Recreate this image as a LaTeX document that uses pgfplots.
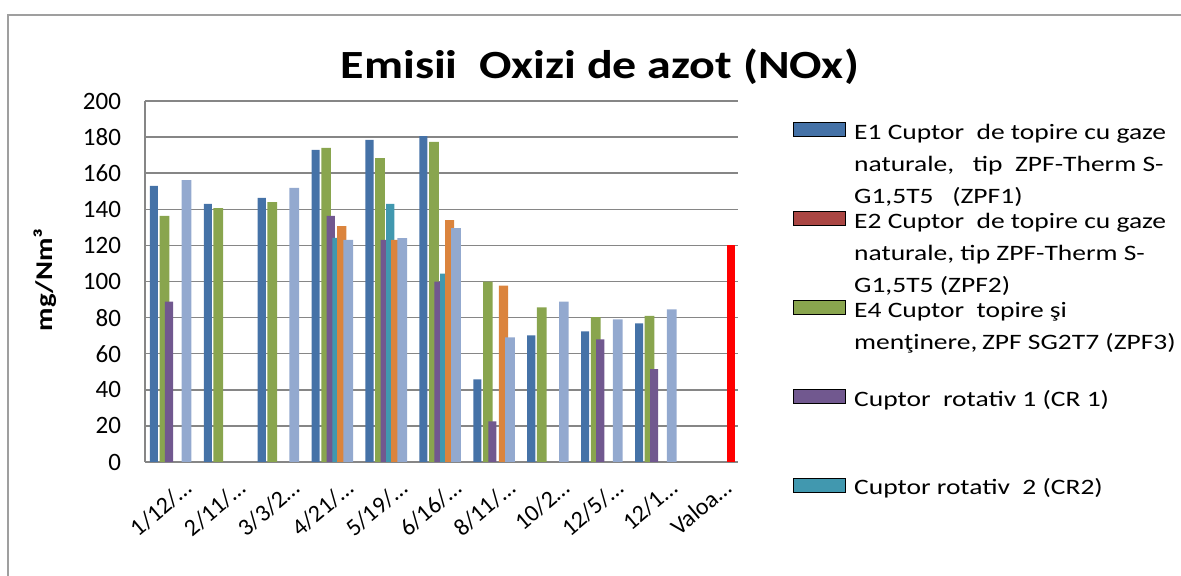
\documentclass[border=0pt]{standalone}
\usepackage{pgfplots}
\pgfplotsset{compat=1.18}
\usepackage{graphicx}
\usepackage{fontspec}
\setmainfont{Carlito}

\definecolor{cE1}{RGB}{69,114,167}
\definecolor{cE2}{RGB}{170,70,67}
\definecolor{cE4}{RGB}{137,165,78}
\definecolor{cCR1}{RGB}{113,88,143}
\definecolor{cCR2}{RGB}{65,152,175}
\definecolor{cOr}{RGB}{219,132,61}
\definecolor{cLb}{RGB}{147,169,207}
\definecolor{cLim}{RGB}{255,0,0}
\definecolor{gridgray}{RGB}{134,134,134}

% legend text, widened like the (stretched) original
\newcommand{\legtxt}[1]{\scalebox{1.25}[1]{\parbox[t]{150pt}{\raggedright\strut #1}}}

\begin{document}
\begin{tikzpicture}
\useasboundingbox (0,0) rectangle (590.5pt,288pt);
\draw[gray!75, line width=1pt] (4pt,-5pt) -- (4pt,280.5pt) -- (600pt,280.5pt);
\begin{axis}[
  at={(72.5pt,57pt)}, anchor=south west,
  width=296.5pt, height=180.5pt, scale only axis,
  xmin=-0.5, xmax=10.5, ymin=0, ymax=200,
  ytick={0,20,...,200},
  xtick={0,...,10},
  xticklabels={1/12/…, 2/11/…, 3/3/2…, 4/21/…, 5/19/…, 6/16/…, 8/11/…, 10/2…, 12/5/…, 12/1…, Valoa…},
  major tick length=0pt,
  /pgf/number format/assume math mode=true,
  tick label style={font=\fontsize{12.5}{14}\selectfont},
  yticklabel style={anchor=east, xshift=-8.5pt},
  xticklabel style={font=\fontsize{12}{14}\selectfont, inner sep=0pt, xshift=11pt, yshift=-14.5pt, rotate=40, anchor=base east},
  ymajorgrids,
  grid style={gridgray, line width=0.75pt},
  axis x line*=bottom, axis y line*=left,
  axis line style={gridgray, line width=0.75pt},
  title={\scalebox{1.2}[1]{Emisii\ \ Oxizi de azot (NOx)}},
  title style={font=\fontsize{20}{24}\selectfont\bfseries, at={(0.767,1.028)}, anchor=base},
  ylabel={\scalebox{1.2}[1]{mg/Nm³}},
  every axis y label/.style={at={(axis description cs:-0.169,0.504)}, rotate=90, anchor=center, font=\fontsize{12}{14}\selectfont\bfseries},
  legend image code/.code={\fill[#1] (0pt,1.5pt) rectangle (26pt,8.5pt);},
  legend style={at={(1.0927,0.957)}, anchor=north west, draw=none, fill=none,
    inner sep=0pt, nodes={inner sep=0pt}, cells={anchor=base west},
    row sep=31.75pt, column sep=4pt, font=\fontsize{11}{16}\selectfont},
]
% E1 ZPF1
\addplot[ybar, bar width=0.15, bar shift=-0.335, fill=cE1, draw=none, forget plot]
  coordinates {(0,153) (1,143) (2,146.3) (3,172.9) (4,178.4) (5,180.6) (6,45.8) (7,70.2) (8,72.4) (9,76.8)};
% E4 ZPF3
\addplot[ybar, bar width=0.18, bar shift=-0.14, fill=cE4, draw=none, forget plot]
  coordinates {(0,136.3) (1,140.7) (2,144) (3,174) (4,168.4) (5,177.3) (6,99.9) (7,85.7) (8,80.2) (9,81)};
% CR1
\addplot[ybar, bar width=0.15, bar shift=-0.055, fill=cCR1, draw=none, forget plot]
  coordinates {(0,88.8) (3,136.3) (4,123) (5,99.9) (6,22.5) (8,68) (9,51.5)};
% CR2
\addplot[ybar, bar width=0.15, bar shift=0.05, fill=cCR2, draw=none, forget plot]
  coordinates {(3,124.1) (4,143) (5,104.3)};
% orange series
\addplot[ybar, bar width=0.17, bar shift=0.15, fill=cOr, draw=none, forget plot]
  coordinates {(3,130.7) (4,123) (5,134) (6,97.7)};
% light blue series
\addplot[ybar, bar width=0.18, bar shift=0.27, fill=cLb, draw=none, forget plot]
  coordinates {(0,156.2) (2,151.8) (3,123) (4,124) (5,129.6) (6,69.1) (7,88.8) (8,79) (9,84.6)};
% limit value
\addplot[ybar, bar width=0.15, bar shift=0.37, fill=cLim, draw=none, forget plot]
  coordinates {(10,120)};

\addlegendimage{fill=cE1}
\addlegendentry{\legtxt{E1 Cuptor\ \ de\ topire\ cu\ gaze\\naturale,\ \ \ tip\ \ ZPF-Therm S-\\G1,5T5\ \ \ (ZPF1)}}
\addlegendimage{fill=cE2}
\addlegendentry{\legtxt{E2 Cuptor\ \ de\ topire\ cu\ gaze\\naturale, tip ZPF-Therm S-\\G1,5T5 (ZPF2)}}
\addlegendimage{fill=cE4}
\addlegendentry{\legtxt{E4 Cuptor\ \ topire şi\\menţinere,\,ZPF SG2T7\ (ZPF3)}}
\addlegendimage{fill=cCR1}
\addlegendentry{\legtxt{Cuptor\ \ rotativ\ 1 (CR 1)}}
\addlegendimage{fill=cCR2}
\addlegendentry{\legtxt{Cuptor rotativ\ \ 2 (CR2)}}
\end{axis}
\end{tikzpicture}
\end{document}
